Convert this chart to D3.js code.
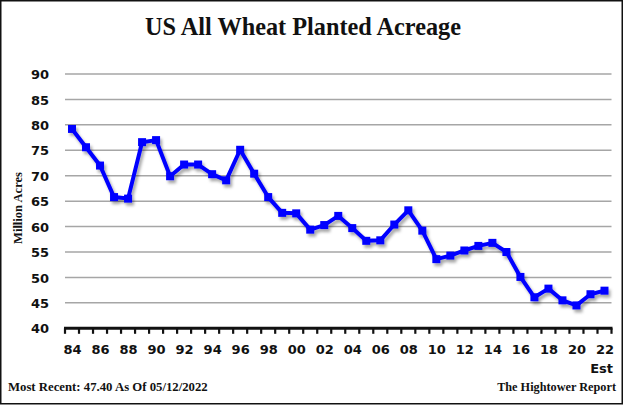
<!DOCTYPE html>
<html><head><meta charset="utf-8">
<script src="https://cdn.jsdelivr.net/npm/d3@7"></script>
<style>
html,body{margin:0;padding:0;background:#fff;}
svg{display:block;}
</style></head>
<body>
<script>
const years = ["84","85","86","87","88","89","90","91","92","93","94","95","96","97","98","99","00","01","02","03","04","05","06","07","08","09","10","11","12","13","14","15","16","17","18","19","20","21","22"];
const acres = [79.2,75.6,72.0,65.8,65.5,76.6,77.0,69.9,72.2,72.2,70.3,69.1,75.1,70.4,65.8,62.7,62.6,59.4,60.3,62.1,59.7,57.2,57.3,60.4,63.2,59.2,53.6,54.3,55.3,56.2,56.8,55.0,50.1,46.1,47.8,45.5,44.5,46.7,47.4];
const yTicks = [40,45,50,55,60,65,70,75,80,85,90];
const xTickLabels = ["84","86","88","90","92","94","96","98","00","02","04","06","08","10","12","14","16","18","20","22"];
const title = "US All Wheat Planted Acreage";
const yTitle = "Million Acres";
const footLeft = "Most Recent: 47.40 As Of 05/12/2022";
const footRight = "The Hightower Report";
const estLabel = "Est";

const W = 624, H = 405;
const svg = d3.select("body").append("svg").attr("width", W).attr("height", H);

const defs = svg.append("defs");
const f = defs.append("filter").attr("id","sh").attr("x","-20%").attr("y","-20%").attr("width","140%").attr("height","140%");
f.append("feDropShadow").attr("dx",2).attr("dy",3).attr("stdDeviation",1.6).attr("flood-color","#000").attr("flood-opacity",0.35);

svg.append("rect").attr("x",0.75).attr("y",0.75).attr("width",W-2.5).attr("height",H-2).attr("fill","#fff").attr("stroke","#111").attr("stroke-width",1.5);

const x = d3.scaleBand().domain(years).range([65, 611.5]).paddingInner(0).paddingOuter(0);
const y = d3.scaleLinear().domain([40,90]).range([328.3, 74]);
const cx = d => x(d) + x.bandwidth()/2;

function fit(sel, target){
  const n = sel.node(); const w = n.getComputedTextLength();
  const fs = parseFloat(sel.attr("font-size"));
  sel.attr("font-size", fs*target/w);
}

// title
const t = svg.append("text").attr("x",303).attr("y",35).attr("text-anchor","middle")
  .attr("font-family","Liberation Serif, serif").attr("font-weight","bold").attr("font-size",22).attr("fill","#111").text(title);
fit(t, 316);

// gridlines
svg.append("g").selectAll("line").data(yTicks.filter(v=>v>40)).join("line")
  .attr("x1",65).attr("x2",611.5).attr("y1",d=>y(d)).attr("y2",d=>y(d))
  .attr("stroke","#a6a6a6").attr("stroke-width",1.5);

// y axis labels
const yAxis = d3.axisLeft(y).tickValues(yTicks).tickSize(0).tickPadding(0).tickFormat(d3.format("d"));
const gy = svg.append("g").attr("transform","translate(49,0)").call(yAxis);
gy.select(".domain").remove();
gy.selectAll("text").attr("font-family","DejaVu Sans, Verdana, sans-serif").attr("font-weight","bold").attr("font-size",13).attr("fill","#111").attr("dy","0.36em");

// x axis line & ticks
const gx = svg.append("g");
gx.append("line").attr("x1",64).attr("x2",612.5).attr("y1",y(40)).attr("y2",y(40)).attr("stroke","#111").attr("stroke-width",3);
const bounds = years.map(d=>x(d)).concat([x(years[years.length-1])+x.bandwidth()]);
gx.selectAll("line.tk").data(bounds).join("line").attr("class","tk")
  .attr("x1",d=>d).attr("x2",d=>d).attr("y1",y(40)).attr("y2",y(40)+5.5).attr("stroke","#111").attr("stroke-width",2.2);

const xAxis = d3.axisBottom(d3.scalePoint().domain(years).range([cx(years[0]), cx(years[years.length-1])]))
  .tickValues(xTickLabels).tickSize(0).tickPadding(0);
const gxl = svg.append("g").attr("transform","translate(0,354)").call(xAxis);
gxl.select(".domain").remove();
gxl.selectAll("text").attr("font-family","DejaVu Sans, Verdana, sans-serif").attr("font-weight","bold").attr("font-size",13).attr("fill","#111").attr("dy",0).attr("y",0);

svg.append("text").attr("x",613).attr("y",372.5).attr("text-anchor","end")
  .attr("font-family","DejaVu Sans, Verdana, sans-serif").attr("font-weight","bold").attr("font-size",13).attr("fill","#111").text(estLabel);

// y title
const yt = svg.append("text").attr("transform","translate(22,208) rotate(-90)").attr("text-anchor","middle")
  .attr("font-family","Liberation Serif, serif").attr("font-weight","bold").attr("font-size",11).attr("fill","#111").text(yTitle);
fit(yt, 72);

// line
const line = d3.line().x((d,i)=>cx(years[i])).y(d=>y(d));
const g = svg.append("g").attr("filter","url(#sh)");
g.append("path").datum(acres).attr("d",line).attr("fill","none").attr("stroke","#0000ff").attr("stroke-width",4).attr("stroke-linejoin","round");
g.selectAll("rect.m").data(acres).join("rect").attr("class","m")
  .attr("x",(d,i)=>cx(years[i])-4).attr("y",d=>y(d)-4).attr("width",8).attr("height",8).attr("fill","#0000ff");

// footers
const fl = svg.append("text").attr("x",8).attr("y",390.5)
  .attr("font-family","Liberation Serif, serif").attr("font-weight","bold").attr("font-size",11).attr("fill","#111").text(footLeft);
fit(fl, 200);
const fr = svg.append("text").attr("x",616).attr("y",390.5).attr("text-anchor","end")
  .attr("font-family","Liberation Serif, serif").attr("font-weight","bold").attr("font-size",11).attr("fill","#111").text(footRight);
fit(fr, 119);
</script>
</body></html>
